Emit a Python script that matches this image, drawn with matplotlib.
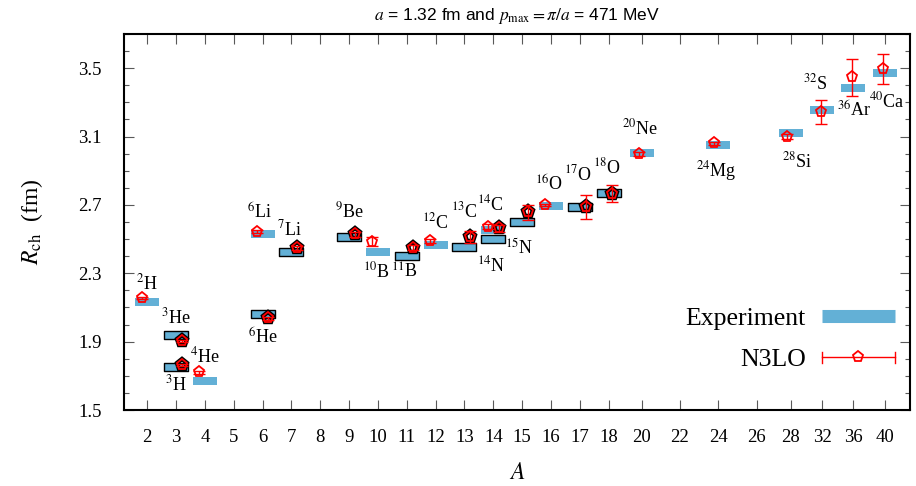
import numpy as np
import matplotlib
matplotlib.use('Agg')
import matplotlib.pyplot as plt
from matplotlib.path import Path
from matplotlib.lines import Line2D
from matplotlib.legend_handler import HandlerBase

plt.rcParams['font.family'] = ['Liberation Serif', 'DejaVu Serif']
plt.rcParams['mathtext.fontset'] = 'stix'

# ---- x axis categories (mass number A) and their slot positions on the axis
A_ticks = [2, 3, 4, 5, 6, 7, 8, 9, 10, 11, 12, 13, 14, 15, 16, 17, 18, 20, 22, 24, 26, 28, 32, 36, 40]
x_slot = [0, 1, 2, 3, 4, 5, 6, 7, 8, 9, 10, 11, 12, 13, 14, 15, 16,
          17.15, 18.47, 19.80, 21.13, 22.32, 23.41, 24.48, 25.58]

# ---- N = Z nuclei (plain bars)
plain_names = ['2H', '4He', '6Li', '10B', '12C', '14N', '16O', '20Ne', '24Mg', '28Si', '32S', '36Ar', '40Ca']
plain_A = [2, 4, 6, 10, 12, 14, 16, 20, 24, 28, 32, 36, 40]
plain_exp = [2.131, 1.671, 2.532, 2.427, 2.466, 2.554, 2.694, 3.001, 3.053, 3.118, 3.256, 3.386, 3.473]
plain_th = [2.154, 1.721, 2.544, 2.485, 2.489, 2.573, 2.700, 2.997, 3.061, 3.100, 3.246, 3.446, 3.496]
plain_err = [0.005, 0.008, 0.008, 0.028, 0.010, 0.015, 0.008, 0.012, 0.010, 0.012, 0.070, 0.106, 0.088]

# ---- N != Z nuclei (bars with black edge)
edged_names = ['3H', '3He', '6He', '7Li', '9Be', '11B', '13C', '14C', '15N', '17O', '18O']
edged_A = [3, 3, 6, 7, 9, 11, 13, 14, 15, 17, 18]
edged_exp = [1.754, 1.939, 2.062, 2.427, 2.515, 2.402, 2.456, 2.499, 2.601, 2.690, 2.770]
edged_th = [1.763, 1.904, 2.037, 2.447, 2.529, 2.450, 2.515, 2.564, 2.657, 2.687, 2.765]
edged_err = [0.008, 0.008, 0.010, 0.010, 0.015, 0.015, 0.035, 0.020, 0.045, 0.072, 0.050]

# label offsets (pixels) relative to the experimental bar
plain_lab_off = [(0, 19), (0, 24), (-3, 21), (-2, -20), (0, 23), (-2, -36), (-2, 21),
                 (-2, 25), (-2, -26), (6, -28), (-7, 26), (1, -23), (2, -29)]
edged_lab_off = [(0, -18), (0, 18), (0, -24), (-2, 22), (0, 25), (-2, -16), (0, 35),
                 (-3, 35), (-3, -26), (-2, 32), (-2, 26)]

bar_color = '#63b0d6'
shift = 0.2  # horizontal shift of theory points (in A)

knotsA = np.array([0.0] + A_ticks + [48.0])
knotsX = np.array([-2.0] + x_slot + [0.0])
knotsX[-1] = x_slot[-1] + (48 - 40) * (x_slot[-1] - x_slot[-4]) / 12.0


def fwd(a):
    return np.interp(a, knotsA, knotsX)


def inv(x):
    return np.interp(x, knotsX, knotsA)


fig = plt.figure(figsize=(9.16, 4.86), dpi=100)
ax = fig.add_axes([124 / 916, 1 - 410 / 486, (910 - 124) / 916, (410 - 34) / 486])
ax.set_xscale('function', functions=(fwd, inv))
ax.set_xlim(inv(-0.808), inv(26.45))
ax.set_ylim(1.5, 3.7)

verts = [(-1, -0.32), (1, -0.32), (1, 0.32), (-1, 0.32), (-1, -0.32)]
codes = [Path.MOVETO, Path.LINETO, Path.LINETO, Path.LINETO, Path.CLOSEPOLY]
bar_marker = Path(verts, codes)

ax.plot(plain_A, plain_exp, ls='none', marker=bar_marker, ms=17, mfc=bar_color,
        mec=bar_color, mew=0, zorder=2)
ax.plot(edged_A, edged_exp, ls='none', marker=bar_marker, ms=17, mfc=bar_color,
        mec='black', mew=1.0, zorder=2)

pA = np.array(plain_A) - shift
eA = np.array(edged_A) + shift
ax.errorbar(pA, plain_th, yerr=plain_err, fmt='none', ecolor='red', elinewidth=1.0,
            capsize=4, capthick=1.0, zorder=4)
ax.errorbar(eA, edged_th, yerr=edged_err, fmt='none', ecolor='red', elinewidth=1.0,
            capsize=4, capthick=1.0, zorder=4)
ax.plot(eA, edged_th, ls='none', marker='p', ms=8, mfc='none', mec='black', mew=3.2, zorder=3)
ax.plot(eA, edged_th, ls='none', marker='p', ms=8, mfc='none', mec='red', mew=1.3, zorder=5)
ax.plot(pA, plain_th, ls='none', marker='p', ms=8, mfc='none', mec='red', mew=1.3, zorder=5)


def iso_label(name):
    num = ''.join(c for c in name if c.isdigit())
    sym = ''.join(c for c in name if not c.isdigit())
    return r'$^{%s}$%s' % (num, sym)


for names, As, Rs, offs in [(plain_names, plain_A, plain_exp, plain_lab_off),
                            (edged_names, edged_A, edged_exp, edged_lab_off)]:
    for n, a, r, (dx, dy) in zip(names, As, Rs, offs):
        ax.annotate(iso_label(n), xy=(a, r), xytext=(dx, dy), textcoords='offset pixels',
                    ha='center', va='center', fontsize=13)

ax.set_xticks(A_ticks)
ax.set_xticklabels([str(a) for a in A_ticks])
ax.xaxis.set_minor_locator(matplotlib.ticker.NullLocator())
ax.set_yticks(np.arange(1.5, 3.51, 0.4))
ax.set_yticklabels(['%.1f' % v for v in np.arange(1.5, 3.51, 0.4)])
ax.yaxis.set_minor_locator(matplotlib.ticker.MultipleLocator(0.1))
ax.tick_params(axis='both', which='major', direction='in', length=7, width=0.8,
               color='0.35', top=True, right=True, labelsize=13.5)
ax.tick_params(axis='y', which='minor', direction='in', length=3.6, width=0.8,
               color='0.35', right=True)
ax.tick_params(axis='x', pad=14)
ax.tick_params(axis='y', pad=16)
for s in ax.spines.values():
    s.set_linewidth(1.5)

ax.set_xlabel(r'$A$', fontsize=17, labelpad=12)
ax.set_ylabel(r'$R_{\rm ch}$  (fm)', fontsize=17, labelpad=24)
ax.set_title(r'$a$ = 1.32 fm and $p_{\rm max} = \pi/a$ = 471 MeV',
             fontsize=12.5, family='Liberation Sans', pad=10)


class ErrHandler(HandlerBase):
    def create_artists(self, legend, orig, xdescent, ydescent, width, height, fontsize, trans):
        y = height / 2 - ydescent
        x0, x1 = -xdescent, width - xdescent
        c = 5.5 * 0.72
        arts = [Line2D([x0, x1], [y, y], color='red', lw=1.0),
                Line2D([x0, x0], [y - c, y + c], color='red', lw=1.0),
                Line2D([x1, x1], [y - c, y + c], color='red', lw=1.0),
                Line2D([(x0 + x1) / 2], [y], ls='none', marker='p', ms=8, mfc='none',
                       mec='red', mew=1.3)]
        for a in arts:
            a.set_transform(trans)
        return arts


exp_handle = Line2D([], [], color=bar_color, lw=9.4, solid_capstyle='butt')
th_handle = Line2D([], [], color='red')
ax.legend([exp_handle, th_handle], ['Experiment', 'N3LO'],
          handler_map={th_handle: ErrHandler()}, loc='lower right',
          bbox_to_anchor=(1.01, 0.042), frameon=False, markerfirst=False,
          fontsize=18.5, handlelength=2.85, handletextpad=0.62, labelspacing=0.7)

fig.savefig('out.png', dpi=100)
